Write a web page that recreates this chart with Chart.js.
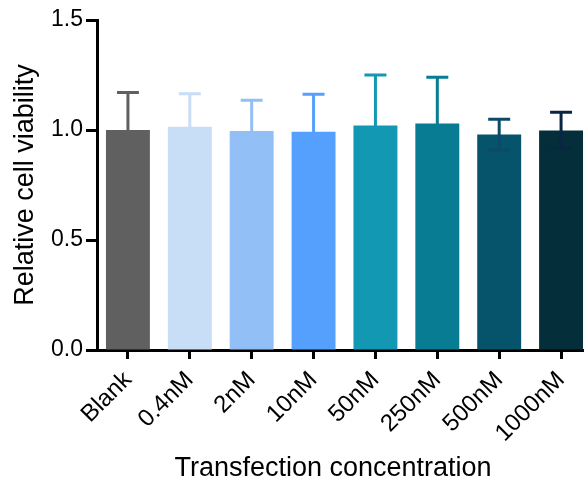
<!DOCTYPE html>
<html>
<head>
<meta charset="utf-8">
<script src="https://cdn.jsdelivr.net/npm/chart.js@4.4.1/dist/chart.umd.min.js"></script>
<style>
  body { margin: 0; background: #fff; }
  #wrap { width: 584px; height: 479px; overflow: hidden; }
  #box { width: 600px; height: 479px; }
</style>
</head>
<body>
<div id="wrap"><div id="box"><canvas id="myChart"></canvas></div></div>
<script>
const categories = ['Blank', '0.4nM', '2nM', '10nM', '50nM', '250nM', '500nM', '1000nM']
const viability = [1.0, 1.015, 0.995, 0.992, 1.02, 1.03, 0.979, 0.998]
const sd = [0.17, 0.15, 0.14, 0.17, 0.23, 0.21, 0.07, 0.083]
const yTicks = [0, 0.5, 1.0, 1.5]
const xTitle = 'Transfection concentration'

const barColors = ['#606060', '#c8ddf6', '#93bff7', '#55a0fc', '#1298b2', '#077c93', '#05546b', '#052e3b']
const errColors = ['#606060', '#c8ddf6', '#93bff7', '#55a0fc', '#1298b2', '#077c93', '#0b4a68', '#0a2645']
const FONT = "'Liberation Sans', Arial, Helvetica, sans-serif"

// error bars (mean +/- sd), drawn from the y scale
const errorBars = {
  id: 'errorBars',
  afterDatasetsDraw(chart) {
    var ctx = chart.ctx
    var y = chart.scales.y
    var meta = chart.getDatasetMeta(0)
    ctx.save()
    ctx.lineWidth = 3
    meta.data.forEach(function (bar, i) {
      var x = bar.x
      var yHi = y.getPixelForValue(viability[i] + sd[i])
      var yLo = y.getPixelForValue(viability[i] - sd[i])
      var half = bar.width / 4
      ctx.strokeStyle = errColors[i]
      ctx.beginPath()
      ctx.moveTo(x, yLo); ctx.lineTo(x, yHi)
      ctx.moveTo(x - half, yHi); ctx.lineTo(x + half, yHi)
      ctx.moveTo(x - half, yLo); ctx.lineTo(x + half, yLo)
      ctx.stroke()
    })
    ctx.restore()
  }
}

// x axis title, centred like the original figure rather than on the (clipped) axis
const bottomTitle = {
  id: 'bottomTitle',
  afterDraw(chart) {
    var ctx = chart.ctx
    ctx.save()
    ctx.font = '27px ' + FONT
    ctx.fillStyle = '#000'
    ctx.textAlign = 'center'
    ctx.textBaseline = 'alphabetic'
    ctx.fillText(xTitle, chart.chartArea.left + 236, 476)
    ctx.restore()
  }
}

function drawChart() {
  var ctx = document.getElementById('myChart').getContext('2d')
  var chart = new Chart(ctx, {
    type: 'bar',
    data: {
      labels: categories,
      datasets: [{
        data: viability,
        backgroundColor: barColors,
        borderWidth: 0,
        barPercentage: 0.71,
        categoryPercentage: 1.0
      }]
    },
    options: {
      responsive: true,
      maintainAspectRatio: false,
      animation: false,
      layout: { padding: { top: 20, right: 8, left: 0, bottom: 0 } },
      plugins: { legend: { display: false }, tooltip: { enabled: false } },
      scales: {
        x: {
          offset: true,
          grid: { drawOnChartArea: false, drawTicks: true, tickLength: 9, tickWidth: 3, tickColor: '#000', offset: false },
          border: { display: true, color: '#000', width: 3 },
          ticks: { color: '#000', font: { family: FONT, size: 24 }, minRotation: 45, maxRotation: 45, padding: 7 },
          afterFit: function (scale) { scale.height = 129 }
        },
        y: {
          min: 0,
          max: 1.5,
          afterBuildTicks: function (scale) { scale.ticks = yTicks.map(function (v) { return { value: v } }) },
          grid: { drawOnChartArea: false, drawTicks: true, tickLength: 11, tickWidth: 3, tickColor: '#000' },
          border: { display: true, color: '#000', width: 3 },
          ticks: { color: '#000', font: { family: FONT, size: 23 }, padding: 3, callback: function (v) { return Number(v).toFixed(1) } },
          title: { display: true, text: 'Relative cell viability', color: '#000', font: { family: FONT, size: 27 }, padding: { top: 9, bottom: 0 } },
          afterFit: function (scale) { scale.width = 97 }
        }
      }
    },
    plugins: [errorBars, bottomTitle]
  })
}
drawChart()
</script>
</body>
</html>
